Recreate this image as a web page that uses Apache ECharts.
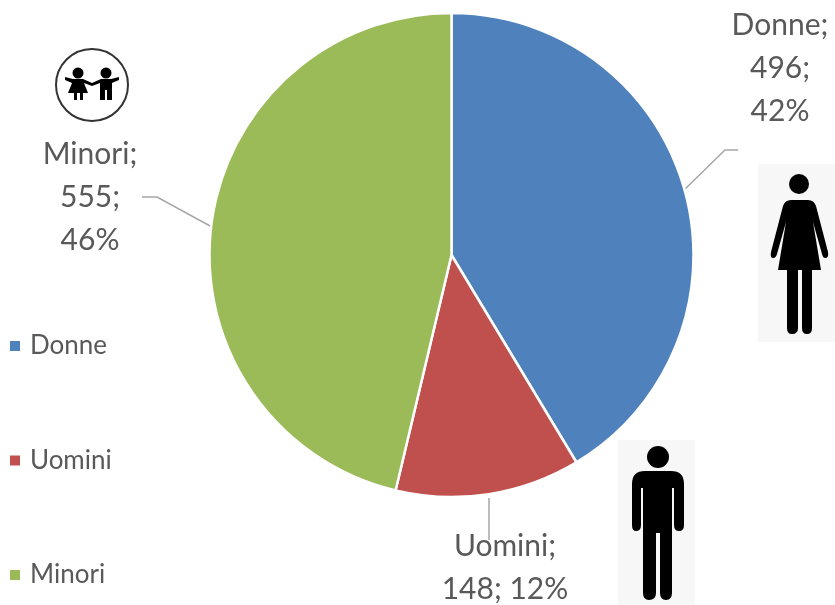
<!DOCTYPE html>
<html>
<head>
<meta charset="utf-8">
<style>html,body{margin:0;padding:0;background:#fff}#c{width:835px;height:605px}</style>
<script src="https://cdn.jsdelivr.net/npm/echarts@6/dist/echarts.min.js"></script>
</head>
<body>
<div id="c"></div>
<script>
const categories = ['Donne', 'Uomini', 'Minori'];
const values = [496, 148, 555];
const colors = ['#4F81BD', '#C0504D', '#9BBB59'];
const labelPlacement = [
  {x: 780, y: 68, line: [[684, 190], [725, 150], [738, 150]]},
  {x: 505, y: 568, line: [[489, 498], [489, 540]]},
  {x: 90, y: 197, line: [[212, 227], [157, 197], [142, 197]]}
];
const font = 'Lato, "Open Sans", sans-serif';
const icons = {
  manIcon: 'M645 471 L671 471 Q684 471 684 484 L684 525 Q684 531 679 531 Q674 531 674 525 L674 488 L672 488 L672 593 Q672 600 666 600 Q660 600 660 593 L660 533 L656 533 L656 593 Q656 600 649 600 Q643 600 643 593 L643 488 L641 488 L641 525 Q641 531 636 531 Q632 531 632 525 L632 484 Q632 471 645 471 Z',
  womanIcon: 'M791 200 L808 200 Q814 200 816 206 L828 252 Q829 258 825 258 Q823 258 822 254 L813 222 L821 270 L812 270 L812 328 Q812 334 807 334 Q802 334 802 328 L802 270 L798 270 L798 328 Q798 334 792 334 Q787 334 787 328 L787 270 L778 270 L786 222 L777 254 Q776 258 773 258 Q770 258 771 252 L783 206 Q785 200 791 200 Z',
  girlIcon: 'M65 77 L73 79 L83 79 L92 83 L92 86 L84 83 L88 93 L83 93 L83 100 L80 100 L80 93 L77 93 L77 100 L74 100 L74 93 L68 93 L72 83 L65 80 Z',
  boyIcon: 'M119 77 L111 79 L101 79 L92 83 L92 86 L100 83 L100 100 L105 100 L105 90 L107 90 L107 100 L112 100 L112 83 L119 80 Z'
};
Object.keys(icons).forEach(k => echarts.graphic.registerShape(k, echarts.graphic.extendPath(icons[k], {})));
const chart = echarts.init(document.getElementById('c'));
chart.setOption({
  animation: false,
  color: colors,
  legend: {
    orient: 'vertical', left: 3, top: 328, itemWidth: 12, itemHeight: 12, itemGap: 88.5,
    icon: 'rect', data: categories,
    textStyle: {fontFamily: font, fontSize: 26, color: '#595959', lineHeight: 25, padding: [0, 0, 0, 4]}
  },
  graphic: [
    {type: 'rect', shape: {x: 758, y: 164, width: 77, height: 178}, style: {fill: '#f7f7f7'}},
    {type: 'rect', shape: {x: 618, y: 440, width: 77, height: 165}, style: {fill: '#f7f7f7'}},
    {type: 'circle', shape: {cx: 799, cy: 184, r: 10}, style: {fill: '#000'}},
    {type: 'womanIcon', style: {fill: '#000'}},
    {type: 'circle', shape: {cx: 658, cy: 457, r: 11}, style: {fill: '#000'}},
    {type: 'manIcon', style: {fill: '#000'}},
    {type: 'circle', shape: {cx: 92, cy: 85, r: 36}, style: {fill: '#fff', stroke: '#333', lineWidth: 2}},
    {type: 'circle', shape: {cx: 78, cy: 73, r: 5.5}, style: {fill: '#000'}},
    {type: 'circle', shape: {cx: 106, cy: 73, r: 5.5}, style: {fill: '#000'}},
    {type: 'girlIcon', style: {fill: '#000'}},
    {type: 'boyIcon', style: {fill: '#000'}}
  ],
  series: [{
    type: 'pie',
    center: [451.5, 255],
    radius: [0, 242],
    startAngle: 90,
    clockwise: true,
    percentPrecision: 0,
    itemStyle: {borderColor: '#fff', borderWidth: 2.5},
    emphasis: {disabled: true},
    data: categories.map((n, i) => ({name: n, value: values[i]})),
    label: {
      show: true,
      position: 'outside',
      overflow: 'none',
      fontFamily: font, fontSize: 30, color: '#595959', lineHeight: 43, align: 'center', verticalAlign: 'middle',
      formatter: p => p.name === 'Uomini'
        ? `${p.name};\n${p.value}; ${p.percent}%`
        : `${p.name};\n${p.value};\n${p.percent}%`
    },
    labelLine: {show: true, lineStyle: {color: '#a6a6a6', width: 1.5}},
    labelLayout: p => {
      const l = labelPlacement[p.dataIndex];
      return {x: l.x, y: l.y, align: 'center', verticalAlign: 'middle', labelLinePoints: l.line};
    }
  }]
});
</script>
</body>
</html>
